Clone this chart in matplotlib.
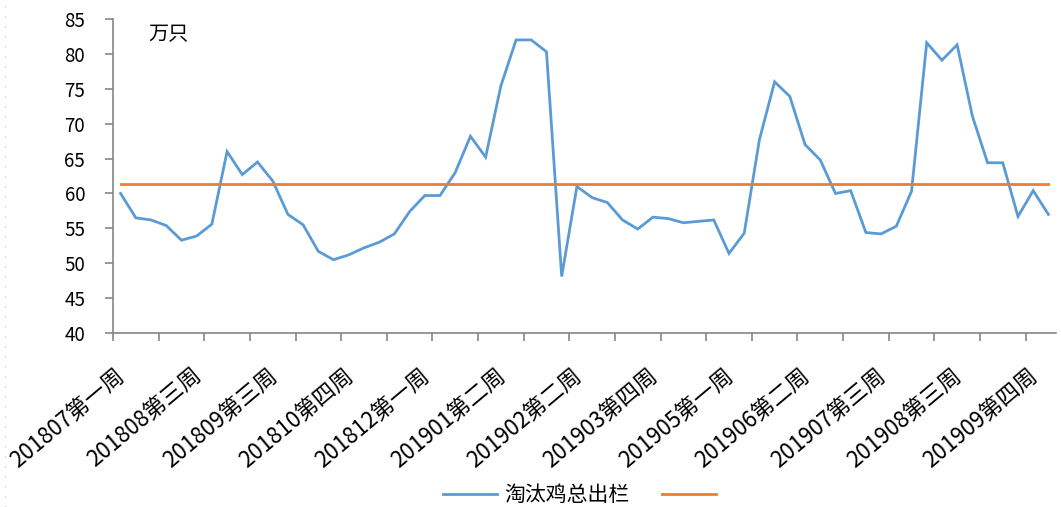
import matplotlib
matplotlib.use("Agg")
import matplotlib.pyplot as plt
from matplotlib.lines import Line2D
from matplotlib.ticker import FixedLocator, NullFormatter, FixedFormatter

plt.rcParams['font.family'] = ['Noto Sans CJK SC', 'DejaVu Sans']

# ---- data ----
series_name = "淘汰鸡总出栏"
unit_label = "万只"
values = [60.0, 56.5, 56.2, 55.4, 53.3, 53.9, 55.6, 66.0, 62.7, 64.5,
          61.8, 57.0, 55.5, 51.7, 50.5, 51.2, 52.2, 53.0, 54.2, 57.4,
          59.7, 59.7, 63.0, 68.2, 65.2, 75.4, 82.0, 82.0, 80.3, 48.1,
          61.0, 59.4, 58.7, 56.2, 54.9, 56.6, 56.4, 55.8, 56.0, 56.2,
          51.4, 54.3, 67.7, 76.0, 73.9, 67.0, 64.8, 60.0, 60.4, 54.4,
          54.2, 55.3, 60.3, 81.6, 79.1, 81.3, 71.1, 64.4, 64.4, 56.7,
          60.4, 57.0]
mean_level = 61.3
mean_values = [mean_level] * len(values)
tick_labels = ["201807第一周", "201808第三周", "201809第三周", "201810第四周",
               "201812第一周", "201901第二周", "201902第二周", "201903第四周",
               "201905第一周", "201906第二周", "201907第三周", "201908第三周",
               "201909第四周"]
label_step = 5
tickmark_step = 3
y_ticks = [40, 45, 50, 55, 60, 65, 70, 75, 80, 85]

# ---- figure ----
W, H = 1061, 507
fig = plt.figure(figsize=(W / 100, H / 100), dpi=100)
ax = fig.add_axes([113 / W, 1 - 333 / H, (1056 - 113) / W, (333 - 19) / H])

blue = "#5B9BD5"
orange = "#ED7D31"
x = list(range(len(values)))
l1, = ax.plot(x, values, color=blue, lw=2.0, solid_joinstyle='miter')
l2, = ax.plot(x, mean_values, color=orange, lw=2.0)

ax.set_xlim(-0.5, len(values) - 0.5)
ax.set_ylim(y_ticks[0], y_ticks[-1])
ax.set_yticks(y_ticks)

spine_c = "#868686"
for s in ["top", "right"]:
    ax.spines[s].set_visible(False)
for s in ["left", "bottom"]:
    ax.spines[s].set_color(spine_c)
    ax.spines[s].set_linewidth(1.2)

# major ticks: tick marks between categories
ax.xaxis.set_major_locator(FixedLocator([i - 0.5 for i in range(0, len(values) + 1, tickmark_step)]))
ax.xaxis.set_major_formatter(NullFormatter())
# minor ticks: labels (slight left nudge so the rotated text ends at the category)
label_nudge = -0.4
ax.xaxis.set_minor_locator(FixedLocator([i * label_step + label_nudge for i in range(len(tick_labels))]))
ax.xaxis.set_minor_formatter(FixedFormatter(tick_labels))
ax.tick_params(axis='x', which='major', direction='out', length=6, width=1.2, color=spine_c)
ax.tick_params(axis='x', which='minor', length=0, labelsize=16, pad=22)
for lab in ax.xaxis.get_minorticklabels():
    lab.set_rotation(40)
    lab.set_ha('right')
    lab.set_va('top')
    lab.set_rotation_mode('anchor')
ax.tick_params(axis='y', direction='out', length=6, width=1.2, color=spine_c,
               labelsize=13.5, pad=14)

fig.text(148 / W, 1 - 35 / H, unit_label, fontsize=14.5, va='center', ha='left')

leg = fig.legend([l1, l2], [series_name, ""], loc='center', ncol=2,
                 bbox_to_anchor=(583 / W, 1 - 495 / H), frameon=False,
                 fontsize=15, handlelength=2.6, columnspacing=1.6,
                 handletextpad=0.3)

# faint dotted border at left edge
fig.add_artist(Line2D([5 / W, 5 / W], [0, 1], transform=fig.transFigure,
                      color="#bbbbbb", lw=0.8, linestyle=(0, (1, 8))))

fig.savefig("out.png", dpi=100)
